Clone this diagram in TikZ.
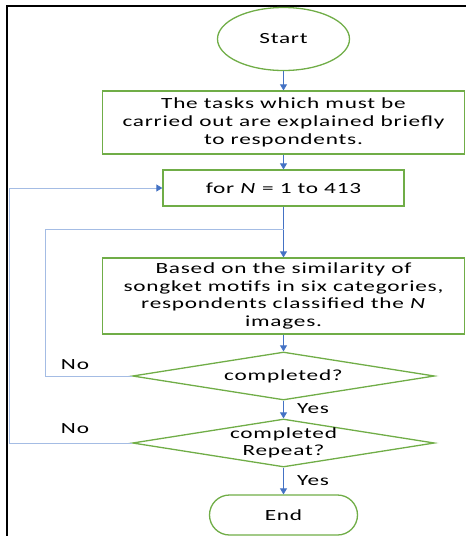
\documentclass[tikz,border=0pt]{standalone}
\usepackage{fontspec}
\setmainfont{Carlito}[FakeStretch=1.5,LetterSpace=5]
\usetikzlibrary{arrows.meta,shapes.geometric,shapes.misc}
\definecolor{boxgreen}{HTML}{70AD47}
\definecolor{arrowblue}{HTML}{4472C4}
\definecolor{loopblue}{HTML}{A4BCE4}
\begin{document}
\begin{tikzpicture}[x=1pt,y=-1pt,
  txt/.style={font=\fontsize{15.5}{17.7}\selectfont, align=center, text=black},
  box/.style={draw=boxgreen, line width=1.3pt, rectangle, inner sep=0pt, txt},
  startend/.style={draw=boxgreen, line width=1.3pt, inner sep=0pt, txt},
  decision/.style={draw=boxgreen, line width=1.3pt, diamond, inner sep=0pt, minimum width=302pt, minimum height=48pt},
  arr/.style={draw=arrowblue, line width=0.8pt, -{Triangle[length=6pt,width=7pt]}},
  loopline/.style={draw=loopblue, line width=1pt},
  looparr/.style={draw=loopblue, line width=1pt, -{Triangle[length=6pt,width=7pt,color=arrowblue]}},
  lbl/.style={txt, inner sep=0pt}
]
\useasboundingbox (0,0) rectangle (466,536);
% frame
\draw[line width=2.2pt, black] (7,540) -- (7,6) -- (470,6);

\node[startend, ellipse, minimum width=132pt, minimum height=63pt] (start) at (283.5,39) {Start};
\node[box, minimum width=362pt, minimum height=63pt] (tasks) at (283.5,122.5)
  {The tasks which must be\\carried out are explained briefly\\to respondents.};
\node[box, minimum width=241pt, minimum height=36pt] (for) at (283.5,188) {for \textit{N} = 1 to 413};
\node[box, minimum width=362pt, minimum height=76pt] (based) at (283.5,296)
  {Based on the similarity of\\songket motifs in six categories,\\respondents classified the \textit{N}\\images.};
\node[decision, label={[txt]center:completed?}] (d1) at (283.5,376) {};
\node[decision, label={[txt]center:completed\\Repeat?}] (d2) at (283.5,443) {};
\node[startend, rounded rectangle, minimum width=148pt, minimum height=40pt] (end) at (283.5,515) {End};

\draw[arr] (start) -- (tasks);
\draw[arr] (tasks) -- (for);
\draw[arr] (for) -- (based);
\draw[arr] (based) -- (d1);
\draw[arr] (d1) -- (d2);
\draw[arr] (d2) -- (end);

\coordinate (j1) at (283.5,229);
\coordinate (c1) at (45,376);
\coordinate (c2) at (9,443);
\draw[loopline] (d1.west) -- (c1) |- (j1);
\draw[looparr] (d2.west) -- (c2) |- (for.west);

\node[lbl] (no1) at (75,365) {No};
\node[lbl] (no2) at (75,429) {No};
\node[lbl] (yes1) at (313,409) {Yes};
\node[lbl] (yes2) at (313,481) {Yes};
\end{tikzpicture}
\end{document}
